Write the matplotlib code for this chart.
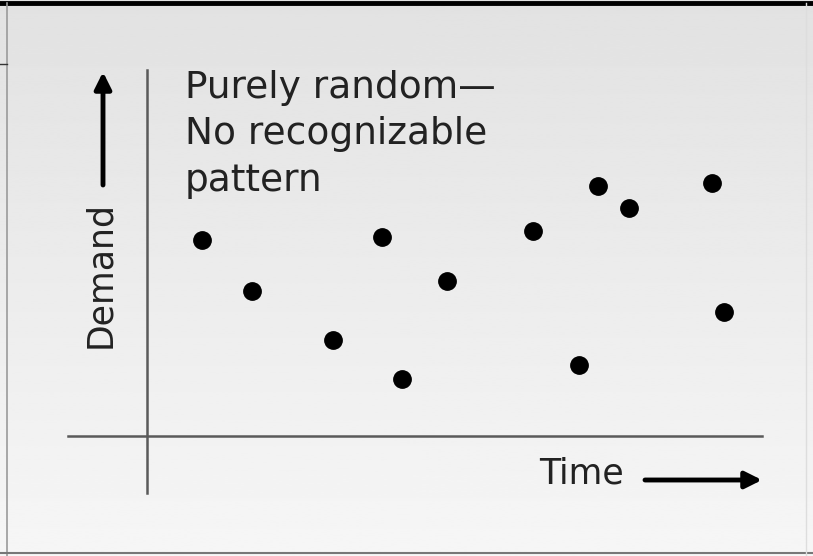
import numpy as np
import matplotlib.pyplot as plt

# demand vs time (origin at the crossing of the axes)
time = [5.5, 10.5, 18.6, 23.5, 25.5, 30.0, 38.6, 43.2, 45.1, 48.2, 56.5, 57.7]
demand = [19.6, 14.5, 9.6, 19.9, 5.7, 15.5, 20.5, 7.1, 25.0, 22.8, 25.3, 12.4]

title = "Purely random—\nNo recognizable\npattern"
xlabel = "Time"
ylabel = "Demand"

fig = plt.figure(figsize=(8.13, 5.56), dpi=100)
ax = fig.add_axes([0, 0, 1, 1])
ax.set_xlim(-14.7, 66.6)
ax.set_ylim(-12.0, 43.6)
ax.axis("off")

# gray gradient background, darker at the top
grad = np.linspace(0.885, 0.965, 256).reshape(-1, 1)
ax.imshow(grad, cmap="gray", vmin=0, vmax=1, aspect="auto",
          extent=(0, 1, 0, 1), transform=ax.transAxes, zorder=0)

# frame
fig.add_artist(plt.Line2D([0, 1], [0.994, 0.994], color="black", lw=3.5))
fig.add_artist(plt.Line2D([0.0086, 0.0086], [0, 0.994], color="#9a9a9a", lw=1.2))
fig.add_artist(plt.Line2D([0, 1], [0.005, 0.005], color="#777777", lw=1.5))
fig.add_artist(plt.Line2D([0.991, 0.991], [0, 0.994], color="#dddddd", lw=1))
fig.add_artist(plt.Line2D([0, 0.0086], [0.885, 0.885], color="#333333", lw=1))

# axes lines
ax.plot([0, 0], [-5.7, 36.6], color="#5a5a5a", lw=1.8, zorder=2)
ax.plot([-7.9, 61.5], [0, 0], color="#5a5a5a", lw=1.8, zorder=2)

ax.plot(time, demand, "o", color="black", ms=12.5, zorder=3)

ax.text(3.8, 36.6, title, fontsize=27, family="DejaVu Sans", color="#222222",
        va="top", ha="left", linespacing=1.37)

ax.text(-4.7, 16.1, ylabel, fontsize=25, family="DejaVu Sans", color="#222222",
        rotation=90, ha="center", va="center")
ax.annotate("", xy=(-4.4, 36.4), xytext=(-4.4, 25.1),
            arrowprops=dict(arrowstyle="-|>", color="black", lw=3.5,
                            mutation_scale=25, shrinkA=0, shrinkB=0))

ax.text(43.4, -3.8, xlabel, fontsize=25, family="DejaVu Sans", color="#222222",
        ha="center", va="center")
ax.annotate("", xy=(61.5, -4.4), xytext=(49.8, -4.4),
            arrowprops=dict(arrowstyle="-|>", color="black", lw=3.5,
                            mutation_scale=25, shrinkA=0, shrinkB=0))

fig.savefig("out.png", dpi=100)
